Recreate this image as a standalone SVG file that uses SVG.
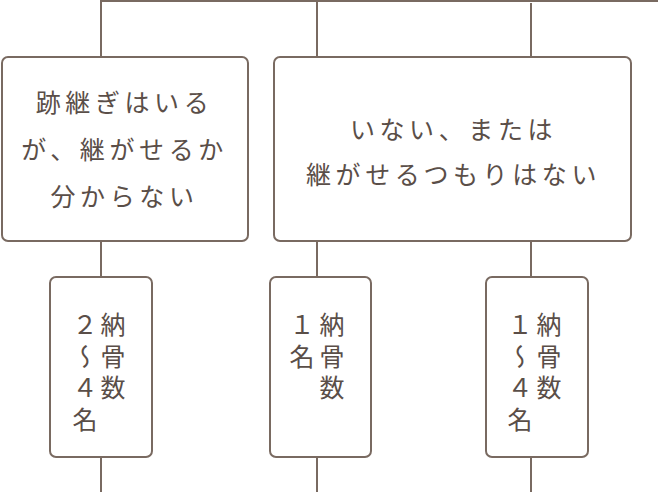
<svg xmlns="http://www.w3.org/2000/svg" width="658" height="492" viewBox="0 0 658 492">
<style>
.ln{stroke:#796a61;stroke-width:2;fill:none}
.bx{stroke:#796a61;stroke-width:2;fill:#ffffff}
.t{font-family:"Noto Sans CJK JP","Noto Sans CJK SC",sans-serif;font-size:25px;fill:#5a4e48;letter-spacing:4.6px;text-anchor:middle}
.v{font-family:"Noto Sans CJK JP","Noto Sans CJK SC",sans-serif;font-size:25px;fill:#5a4e48;letter-spacing:6.5px;writing-mode:vertical-rl;text-orientation:upright}
</style>
<rect width="658" height="492" fill="#ffffff"/>
<g id="connectors">
<path class="ln" d="M101,1 H658 M101,0 V57 M317,1 V57 M531,3 V57"/>
<path class="ln" d="M101,241 V277 M317,241 V277 M531,241 V277"/>
<path class="ln" d="M101,457 V492 M317,457 V492 M531,457 V492"/>
</g>
<g id="node1">
<rect class="bx" x="2" y="57" width="246" height="184" rx="6"/>
<text class="t" x="124.5" y="112">跡継ぎはいる</text>
<text class="t" x="124.5" y="159">が、継がせるか</text>
<text class="t" x="124.5" y="206">分からない</text>
</g>
<g id="node2">
<rect class="bx" x="274" y="57" width="357" height="184" rx="6"/>
<text class="t" x="453.5" y="139">いない、または</text>
<text class="t" x="453.5" y="184">継がせるつもりはない</text>
</g>
<g id="node3">
<rect class="bx" x="50" y="277" width="102" height="180" rx="6"/>
<text class="v" x="113" y="312">納骨数</text>
<text class="v" x="85" y="312">２〜４名</text>
</g>
<g id="node4">
<rect class="bx" x="270" y="277" width="101" height="180" rx="6"/>
<text class="v" x="332" y="312">納骨数</text>
<text class="v" x="302" y="312">１名</text>
</g>
<g id="node5">
<rect class="bx" x="486" y="277" width="102" height="180" rx="6"/>
<text class="v" x="549" y="312">納骨数</text>
<text class="v" x="520" y="312">１〜４名</text>
</g>
</svg>
